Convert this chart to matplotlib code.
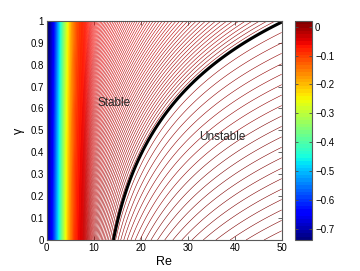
import numpy as np
import matplotlib
matplotlib.use('Agg')
import matplotlib.pyplot as plt
from matplotlib.colors import Normalize
from matplotlib.cm import ScalarMappable

plt.rcParams['font.family'] = ['Liberation Sans', 'DejaVu Sans']

# neutral curve (growth rate = 0)
neutral_gamma = [0.0, 0.25, 0.5, 0.684, 0.868, 0.973]
neutral_re = [13.8, 18.4, 22.7, 28.4, 39.0, 49.6]

# stable side: strong decay at low Re plus a slow tail
decay_amp = 0.63
decay_width = 4.0
tail_amp = 2.3
tail_shift = 14.9
# unstable side: growth rate per unit of gamma below the neutral curve
growth_slope = 0.021

clim = [-0.739, 0.0205]
level_step = 0.001
cbar_ticks = [-0.7, -0.6, -0.5, -0.4, -0.3, -0.2, -0.1, 0.0]
x_ticks = [0, 10, 20, 30, 40, 50]
y_ticks = [0, 0.1, 0.2, 0.3, 0.4, 0.5, 0.6, 0.7, 0.8, 0.9, 1]
y_ticklabels = ['0', '0.1', '0.2', '0.3', '0.4', '0.5', '0.6', '0.7', '0.8', '0.9', '1']

# build the field
re = np.linspace(0, 50, 1201)
gam = np.linspace(0, 1, 601)
RE, GAM = np.meshgrid(re, gam)

# smooth neutral curve: quadratic fit of log(Re) against gamma
fit = np.polyfit(neutral_gamma, np.log(neutral_re), 2)
re_c = np.exp(np.polyval(fit, gam))
g_tab = np.linspace(0, 1.3, 3001)
re_tab = np.maximum.accumulate(np.exp(np.polyval(fit, g_tab)))
gam_c = np.interp(re, re_tab, g_tab)


def decay(r):
    return -decay_amp * np.exp(-(r / decay_width) ** 2) - tail_amp / (r + tail_shift)


sigma = np.where(RE > re_c[:, None],
                 growth_slope * (gam_c[None, :] - GAM),
                 decay(RE) - decay(re_c)[:, None])

levels = np.round(np.arange(np.ceil(clim[0] / level_step), np.floor(clim[1] / level_step) + 1) * level_step, 4)
cmap = plt.get_cmap('jet', 64)
norm = Normalize(vmin=clim[0], vmax=clim[1])

fig = plt.figure(figsize=(3.6, 2.71), dpi=100)
ax = fig.add_axes([0.1297, 0.1144, 0.6528, 0.809])
cax = fig.add_axes([0.8194, 0.1144, 0.048, 0.809])

ax.contour(RE, GAM, sigma, levels=levels, cmap=cmap, norm=norm, linewidths=0.4)
ax.contour(RE, GAM, sigma, levels=[0], colors='k', linewidths=2.2)

ax.set_xlim(0, 50)
ax.set_ylim(0, 1)
ax.set_xticks(x_ticks)
ax.set_yticks(y_ticks)
ax.set_yticklabels(y_ticklabels)
ax.tick_params(direction='in', length=3, width=0.6, labelsize=7, top=True, right=True,
               color='0.3', pad=2)
for s in ax.spines.values():
    s.set_color('0.35')
    s.set_linewidth(0.8)
ax.set_xlabel('Re', fontsize=9, labelpad=2)
ax.set_ylabel('γ', fontsize=9, labelpad=4)

ax.text(14.4, 0.625, 'Stable', fontsize=8.5, ha='center', va='center', color='0.15')
ax.text(37.4, 0.47, 'Unstable', fontsize=8.5, ha='center', va='center', color='0.15')

cb = fig.colorbar(ScalarMappable(norm=norm, cmap=cmap), cax=cax)
cb.set_ticks(cbar_ticks)
cb.set_ticklabels(['−0.7', '−0.6', '−0.5', '−0.4', '−0.3', '−0.2', '−0.1', '0'])
cax.tick_params(direction='in', length=2, width=0.6, labelsize=7, left=True, right=True,
                color='0.3', pad=2)
cb.outline.set_edgecolor('0.35')
cb.outline.set_linewidth(0.8)

fig.savefig('out.png', dpi=100)
